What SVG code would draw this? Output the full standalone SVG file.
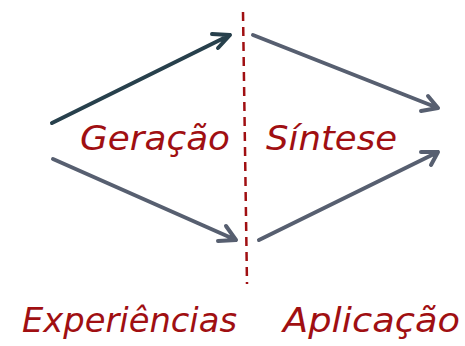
<svg xmlns="http://www.w3.org/2000/svg" width="465" height="346" viewBox="0 0 465 346">
<style>
.lbl{font-family:"DejaVu Sans","Liberation Sans",sans-serif;font-style:italic;font-size:34px;fill:#A00F12}
.arr{fill:none;stroke-width:4;stroke-linecap:round;stroke-linejoin:round}
.dark{stroke:#27404C}
.gray{stroke:#575F70}
</style>
<rect width="465" height="346" fill="#fff"/>
<g id="divider">
<line x1="243" y1="12" x2="247" y2="284" stroke="#A00F12" stroke-width="2.5" stroke-dasharray="9,6"/>
</g>
<g id="connectors">
<path class="arr dark" d="M52,123 L230,35 M218,48 L230,35 L212,34"/>
<path class="arr gray" d="M253,35 L438,108 M428,96 L438,108 L421,111"/>
<path class="arr gray" d="M53,159 L236,240 M226,226 L236,240 L218,241"/>
<path class="arr gray" d="M259,240 L438,152 M421,152 L438,152 L431,165"/>
</g>
<g id="geracao"><text class="lbl" x="80" y="150" textLength="150" lengthAdjust="spacingAndGlyphs">Geração</text></g>
<g id="sintese"><text class="lbl" x="266" y="150" textLength="131" lengthAdjust="spacingAndGlyphs">Síntese</text></g>
<g id="experiencias"><text class="lbl" x="22" y="332" textLength="215" lengthAdjust="spacingAndGlyphs">Experiências</text></g>
<g id="aplicacao"><text class="lbl" x="283" y="332" textLength="177" lengthAdjust="spacingAndGlyphs">Aplicação</text></g>
</svg>
